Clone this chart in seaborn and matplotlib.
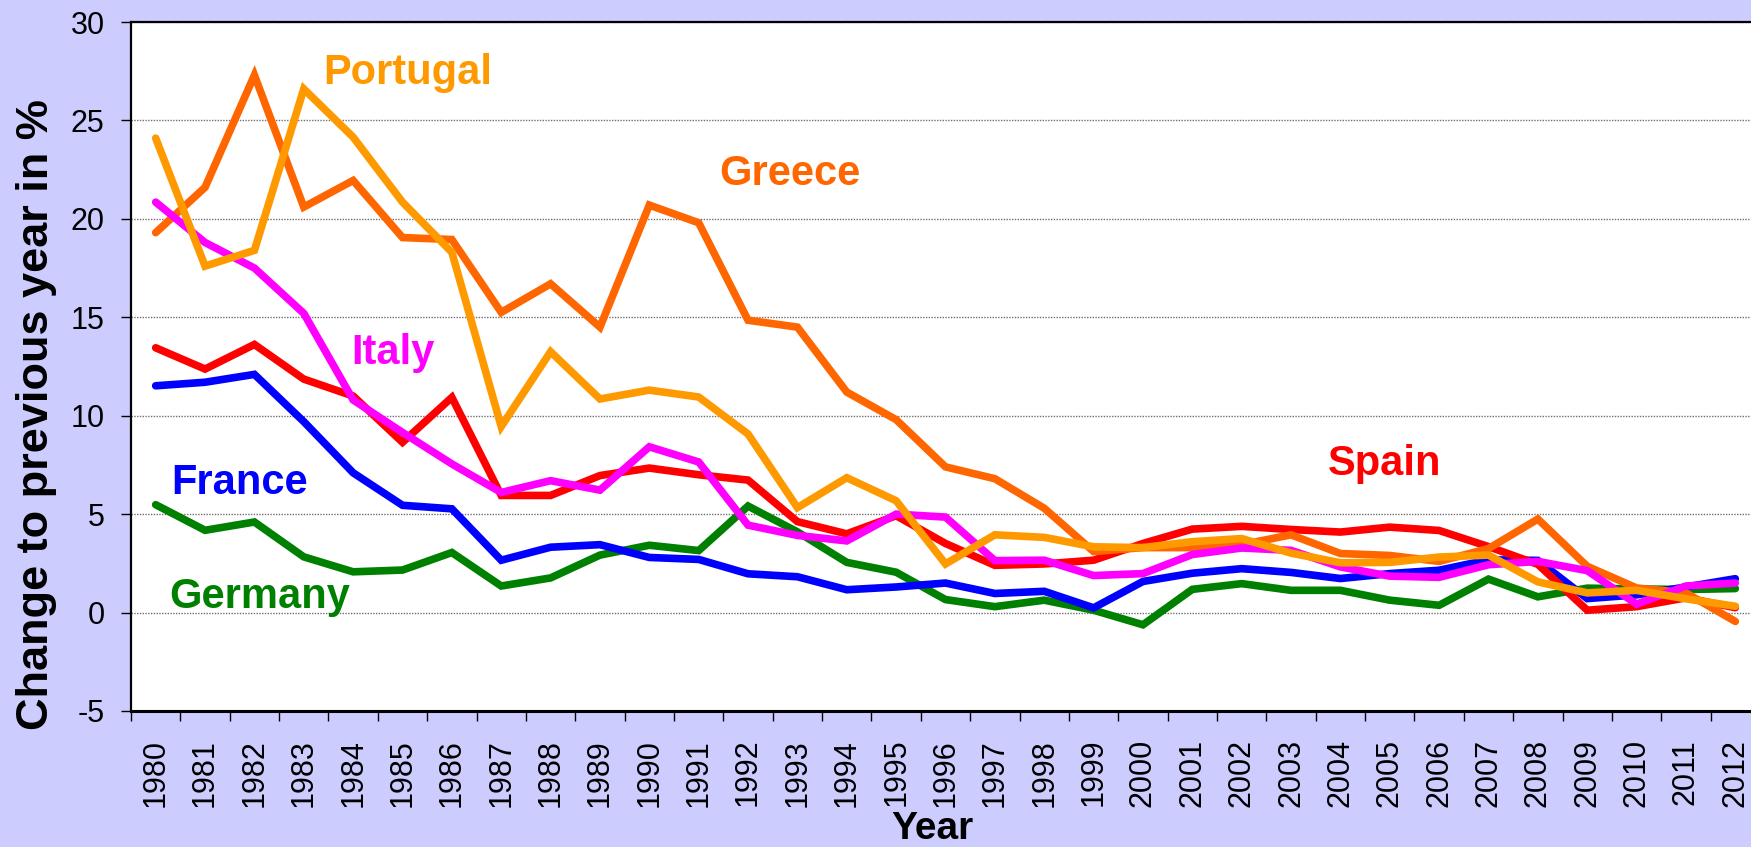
import numpy as np
import pandas as pd
import seaborn as sns
import matplotlib.pyplot as plt

years = list(range(1980, 2013))

greece = [19.3, 21.6, 27.3, 20.6, 21.95, 19.05, 18.95, 15.25, 16.7, 14.5,
          20.7, 19.8, 14.85, 14.5, 11.2, 9.8, 7.4, 6.8, 5.3, 3.1,
          3.3, 3.3, 3.45, 3.95, 3.0, 2.9, 2.6, 3.25, 4.75, 2.35,
          1.25, 1.0, -0.45]
portugal = [24.1, 17.6, 18.4, 26.6, 24.15, 20.85, 18.3, 9.45, 13.25, 10.85,
            11.3, 10.95, 9.07, 5.33, 6.85, 5.68, 2.47, 3.95, 3.82, 3.34,
            3.3, 3.6, 3.76, 3.02, 2.53, 2.55, 2.82, 2.92, 1.56, 1.0,
            1.13, 0.7, 0.32]
italy = [20.85, 18.8, 17.5, 15.2, 10.8, 9.15, 7.55, 6.1, 6.7, 6.22,
         8.42, 7.65, 4.44, 3.92, 3.64, 5.0, 4.85, 2.64, 2.66, 1.88,
         1.98, 2.95, 3.28, 3.16, 2.32, 1.85, 1.79, 2.43, 2.6, 2.13,
         0.43, 1.35, 1.5]
spain = [13.45, 12.37, 13.62, 11.86, 11.0, 8.65, 10.93, 5.95, 5.95, 6.96,
         7.34, 7.0, 6.73, 4.62, 4.0, 4.92, 3.51, 2.4, 2.47, 2.66,
         3.51, 4.24, 4.38, 4.22, 4.09, 4.34, 4.17, 3.35, 2.45, 0.12,
         0.3, 0.75, 0.25]
france = [11.52, 11.7, 12.1, 9.7, 7.1, 5.45, 5.27, 2.66, 3.32, 3.45,
          2.8, 2.7, 1.97, 1.82, 1.16, 1.3, 1.5, 0.97, 1.08, 0.24,
          1.58, 2.0, 2.23, 2.04, 1.73, 1.98, 2.15, 2.68, 2.65, 0.71,
          0.9, 1.3, 1.72]
germany = [5.48, 4.18, 4.6, 2.83, 2.07, 2.16, 3.05, 1.35, 1.76, 2.92,
           3.42, 3.15, 5.41, 4.1, 2.55, 2.05, 0.66, 0.3, 0.63, 0.12,
           -0.62, 1.18, 1.47, 1.13, 1.13, 0.63, 0.37, 1.7, 0.8, 1.24,
           1.2, 1.17, 1.22]

# drawing order, bottom to top
countries = ["Germany", "France", "Spain", "Greece", "Italy", "Portugal"]
colors = {"Germany": "#008000", "France": "#0000FF", "Spain": "#FF0000",
          "Greece": "#FF6600", "Italy": "#FF00FF", "Portugal": "#FF9900"}
series = {"Germany": germany, "France": france, "Spain": spain,
          "Greece": greece, "Italy": italy, "Portugal": portugal}

# label positions (year, value)
label_pos = {"Portugal": (1985.1, 27.4), "Greece": (1992.85, 22.3),
             "Italy": (1984.8, 13.2), "Spain": (2004.9, 7.55),
             "France": (1981.7, 6.6), "Germany": (1982.1, 0.8)}

df = pd.DataFrame({
    "Year": years * len(countries),
    "Value": sum([series[c] for c in countries], []),
    "Country": sum([[c] * len(years) for c in countries], []),
})

plt.rcParams["font.family"] = ["Liberation Sans", "DejaVu Sans"]
plt.rcParams["axes.unicode_minus"] = False

fig = plt.figure(figsize=(17.51, 8.47), dpi=100, facecolor="#CCCCFF")
ax = fig.add_axes([131 / 1751, 136 / 847, 1629 / 1751, 689 / 847])
ax.set_facecolor("white")

sns.lineplot(data=df, x="Year", y="Value", hue="Country", hue_order=countries,
             palette=colors, linewidth=5.5, legend=False, ax=ax,
             solid_joinstyle="miter", solid_capstyle="round")

for c in countries:
    x, y = label_pos[c]
    ax.text(x, y, c, color=colors[c], fontsize=30, fontweight="bold",
            ha="center", va="center", zorder=5)

ax.set_xlim(1979.5, 2012.5)
ax.set_ylim(-5, 30)
ax.set_yticks(np.arange(-5, 31, 5))
ax.yaxis.grid(True, linestyle=(0, (1, 1)), color="#707070", linewidth=1)
ax.set_axisbelow(True)

ax.set_xticks(years)
ax.set_xticklabels([str(y) for y in years], rotation=90)
ax.set_xticks(np.arange(1979.5, 2013, 1), minor=True)
ax.tick_params(axis="x", which="major", length=0, pad=20, labelsize=22)
ax.tick_params(axis="x", which="minor", length=7, width=1, direction="out")
ax.tick_params(axis="y", length=7, width=1, pad=12, labelsize=22)

for s in ["left", "top"]:
    ax.spines[s].set_linewidth(1.6)
ax.spines["bottom"].set_linewidth(2.2)
ax.spines["right"].set_visible(False)
for s in ax.spines.values():
    s.set_color("black")

ax.set_xlabel("Year", fontsize=28, fontweight="bold", va="center")
ax.xaxis.set_label_coords(0.492, -0.171)
ax.set_ylabel("Change to previous year in %", fontsize=32.5, fontweight="bold",
              va="center")
ax.yaxis.set_label_coords(-0.058, 0.43)

fig.savefig("out.png", dpi=100, facecolor=fig.get_facecolor())
